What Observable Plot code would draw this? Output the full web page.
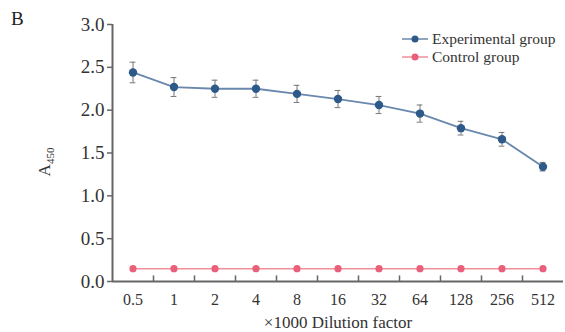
<!DOCTYPE html>
<html><head><meta charset="utf-8">
<script src="https://cdn.jsdelivr.net/npm/d3@7"></script>
<script src="https://cdn.jsdelivr.net/npm/@observablehq/plot@0.6"></script>
<style>
body{margin:0;background:#fff;font-family:"Liberation Serif","Times New Roman",serif;}
#wrap{position:relative;width:565px;height:332px;}
#panel{position:absolute;left:11px;top:8px;font-size:19px;color:#222;}
</style></head>
<body><div id="wrap"><div id="panel">B</div></div>
<script>
const dilutions = ["0.5","1","2","4","8","16","32","64","128","256","512"];
const experimental = [2.44,2.27,2.25,2.25,2.19,2.13,2.06,1.96,1.79,1.66,1.34];
const experimentalErr = [0.12,0.11,0.10,0.10,0.10,0.10,0.10,0.10,0.08,0.08,0.05];
const control = [0.15,0.15,0.15,0.15,0.15,0.15,0.15,0.15,0.15,0.15,0.15];
const yTicks = [0,0.5,1.0,1.5,2.0,2.5,3.0];

const exp = dilutions.map((d,i)=>({i, v:experimental[i], lo:experimental[i]-experimentalErr[i], hi:experimental[i]+experimentalErr[i]}));
const ctl = dilutions.map((d,i)=>({i, v:control[i]}));
const bounds = dilutions.slice(1).map((d,i)=>i+0.5);
const capW = 0.07;
const axisCol = "#666";
const font = "'Liberation Serif','Times New Roman',serif";

const chart = Plot.plot({
  width:565, height:332,
  marginLeft:112, marginRight:2, marginTop:24, marginBottom:51,
  style:{fontFamily:font, fontSize:"17px", color:"#333", background:"transparent"},
  x:{type:"linear", domain:[-0.5, dilutions.length-0.5]},
  y:{domain:[0,3]},
  marks:[
    Plot.axisY({ticks:yTicks, tickFormat:d3.format(".1f"), tickSize:5, tickPadding:3, stroke:axisCol, strokeWidth:1.5, fill:"#333", fontSize:19, label:null}),
    Plot.axisX({ticks:d3.range(dilutions.length), tickFormat:i=>dilutions[i], tickSize:0, tickPadding:12, fill:"#333", fontSize:16, label:null}),
    Plot.ruleY([0], {stroke:axisCol, strokeWidth:2}),
    Plot.ruleX([-0.5], {y1:0, y2:3, stroke:axisCol, strokeWidth:2}),
    Plot.ruleX(bounds, {x:d=>d, y1:0, y2:0.065, stroke:axisCol, strokeWidth:1.5}),
    Plot.lineY(ctl, {x:"i", y:"v", stroke:"#f0909a", strokeWidth:1.5}),
    Plot.dot(ctl, {x:"i", y:"v", r:3.6, fill:"#e8607a", stroke:"none"}),
    Plot.ruleX(exp, {x:"i", y1:"lo", y2:"hi", stroke:"#777", strokeWidth:1}),
    Plot.ruleY(exp, {x1:d=>d.i-capW, x2:d=>d.i+capW, y:"hi", stroke:"#777", strokeWidth:1}),
    Plot.ruleY(exp, {x1:d=>d.i-capW, x2:d=>d.i+capW, y:"lo", stroke:"#777", strokeWidth:1}),
    Plot.lineY(exp, {x:"i", y:"v", stroke:"#6a88ad", strokeWidth:1.8}),
    Plot.dot(exp, {x:"i", y:"v", r:4.2, fill:"#2e5a8a", stroke:"none"})
  ]
});
document.getElementById("wrap").appendChild(chart);
const svg = d3.select(chart);
// x axis title
svg.append("text").attr("x",338).attr("y",328).attr("text-anchor","middle")
  .attr("font-family",font).attr("font-size",17).attr("fill","#333").text("×1000 Dilution factor");
// y axis title with subscript
const yt = svg.append("text").attr("transform","translate(50,162) rotate(-90)").attr("text-anchor","middle")
  .attr("font-family",font).attr("font-size",17).attr("fill","#333");
yt.append("tspan").text("A");
yt.append("tspan").attr("font-size",11).attr("dy",4).text("450");
// legend
const leg = [{name:"Experimental group", line:"#6a88ad", dot:"#2e5a8a", y:39},{name:"Control group", line:"#f0909a", dot:"#e8607a", y:57}];
leg.forEach(l=>{
  const g = svg.append("g");
  g.append("line").attr("x1",402).attr("x2",428).attr("y1",l.y).attr("y2",l.y).attr("stroke",l.line).attr("stroke-width",1.5);
  g.append("circle").attr("cx",415).attr("cy",l.y).attr("r",3.5).attr("fill",l.dot);
  g.append("text").attr("x",432).attr("y",l.y).attr("dy","0.35em").attr("text-anchor","start").attr("font-family",font).attr("font-size",15.5).attr("fill","#333").text(l.name);
});
</script></body></html>
